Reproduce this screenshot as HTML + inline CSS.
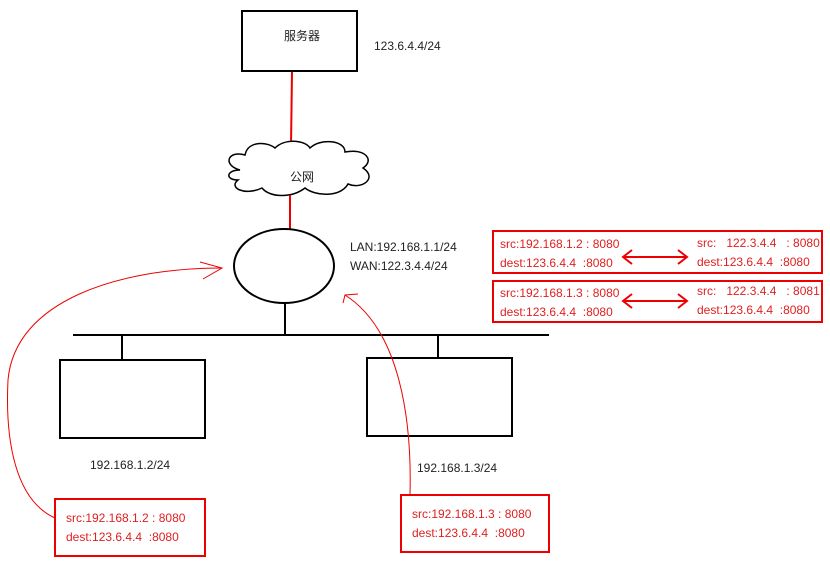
<!DOCTYPE html>
<html><head><meta charset="utf-8"><style>
body{margin:0;background:#fff;width:830px;height:566px;overflow:hidden;position:relative;font-family:"Liberation Sans","Noto Sans CJK SC",sans-serif}
.t{position:absolute;font-size:12px;color:#222;white-space:pre}
.r{position:absolute;font-size:12px;color:#e02020;white-space:pre}
</style></head><body>
<svg width="830" height="566" style="position:absolute;left:0;top:0">
<rect x="242" y="11" width="115" height="60" fill="none" stroke="#000" stroke-width="2"/>
<line x1="292" y1="72" x2="291" y2="146" stroke="#e00" stroke-width="2"/>
<path d="M240 170 C222 165 228 150 245 155 C248 140 268 142 275 148 C285 138 305 140 310 148 C320 138 345 140 345 152 C365 148 375 160 363 168 C378 178 362 190 348 184 C340 198 315 196 305 188 C292 198 270 198 262 188 C245 196 228 188 238 180 C225 180 226 170 240 170 Z" fill="#fff" stroke="#000" stroke-width="1.5"/>
<line x1="290" y1="195" x2="290" y2="229" stroke="#e00" stroke-width="2"/>
<ellipse cx="284" cy="266" rx="50" ry="37" fill="none" stroke="#000" stroke-width="2"/>
<line x1="285" y1="303" x2="285" y2="335" stroke="#000" stroke-width="2"/>
<line x1="73" y1="335" x2="549" y2="335" stroke="#000" stroke-width="2"/>
<line x1="122" y1="335" x2="122" y2="360" stroke="#000" stroke-width="2"/>
<line x1="438" y1="335" x2="438" y2="358" stroke="#000" stroke-width="2"/>
<rect x="60" y="360" width="145" height="78" fill="none" stroke="#000" stroke-width="2"/>
<rect x="367" y="358" width="145" height="78" fill="none" stroke="#000" stroke-width="2"/>
<g fill="none" stroke="#e00" stroke-width="2">
<rect x="493" y="231" width="329" height="42"/>
<rect x="493" y="281" width="329" height="41"/>
<rect x="55" y="499" width="150" height="57"/>
<rect x="401" y="495" width="148" height="57"/>
</g>
<g fill="none" stroke="#e00" stroke-width="2">
<path d="M623 257 H687 M632 250 L623 257 L632 264 M678 250 L687 257 L678 264"/>
<path d="M623 301 H687 M632 294 L623 301 L632 308 M678 294 L687 301 L678 308"/>
</g>
<g fill="none" stroke="#e00" stroke-width="1">
<path d="M55 518 C15 500 5 440 8 380 C15 300 120 268 222 268"/>
<path d="M200 262 L222 268 L203 279"/>
<path d="M410 495 C412 420 400 330 345 295"/>
<path d="M343 303 L345 295 L358 294"/>
</g>
</svg>
<div class="t" style="left:284px;top:27px">服务器</div>
<div class="t" style="left:374px;top:39px">123.6.4.4/24</div>
<div class="t" style="left:290px;top:168px">公网</div>
<div class="t" style="left:350px;top:238px;line-height:19px">LAN:192.168.1.1/24
WAN:122.3.4.4/24</div>
<div class="t" style="left:90px;top:458px">192.168.1.2/24</div>
<div class="t" style="left:417px;top:461px">192.168.1.3/24</div>
<div class="r" style="left:500px;top:235px;line-height:19px">src:192.168.1.2 : 8080
dest:123.6.4.4  :8080</div>
<div class="r" style="left:697px;top:234px;line-height:19px">src:   122.3.4.4   : 8080
dest:123.6.4.4  :8080</div>
<div class="r" style="left:500px;top:284px;line-height:19px">src:192.168.1.3 : 8080
dest:123.6.4.4  :8080</div>
<div class="r" style="left:697px;top:282px;line-height:19px">src:   122.3.4.4   : 8081
dest:123.6.4.4  :8080</div>
<div class="r" style="left:66px;top:509px;line-height:19px">src:192.168.1.2 : 8080
dest:123.6.4.4  :8080</div>
<div class="r" style="left:412px;top:505px;line-height:19px">src:192.168.1.3 : 8080
dest:123.6.4.4  :8080</div>
</body></html>
